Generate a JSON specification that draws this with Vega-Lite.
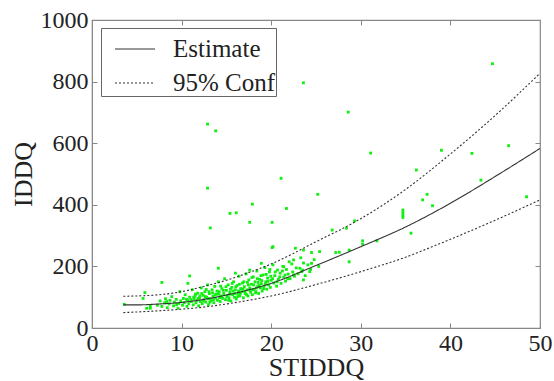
{
  "$schema": "https://vega.github.io/schema/vega-lite/v6.json",
  "width": 448,
  "height": 308,
  "autosize": "none",
  "padding": {"left": 92, "top": 20, "right": 14, "bottom": 53},
  "background": "white",
  "config": {
    "view": {"stroke": "#888", "strokeWidth": 1.2},
    "font": "Liberation Serif",
    "style": {"guide-label": {"font": "Liberation Serif"}, "guide-title": {"font": "Liberation Serif"}},
    "axis": {"grid": false, "domainColor": "#888", "tickColor": "#888", "labelColor": "#222", "titleColor": "#222", "labelFont": "Liberation Serif", "titleFont": "Liberation Serif", "labelFontSize": 24, "titleFontSize": 26, "titleFontWeight": "normal", "labelFlush": false, "labelOverlap": false}
  },
  "datasets": {
    "points": [
      {"x":44.7,"y":858},{"x":23.6,"y":796},{"x":28.6,"y":701},{"x":12.9,"y":662},{"x":13.8,"y":640},{"x":46.5,"y":592},{"x":39.0,"y":577},{"x":31.1,"y":568},{"x":42.4,"y":567},{"x":36.2,"y":513},{"x":21.1,"y":486},{"x":43.4,"y":480},{"x":12.9,"y":454},{"x":25.2,"y":434},{"x":37.4,"y":434},{"x":48.5,"y":426},{"x":36.9,"y":416},{"x":17.9,"y":402},{"x":38.0,"y":397},{"x":21.7,"y":388},{"x":16.1,"y":374},{"x":15.4,"y":372},{"x":34.7,"y":383},{"x":34.7,"y":375},{"x":34.7,"y":367},{"x":34.7,"y":359},{"x":17.6,"y":343},{"x":20.1,"y":343},{"x":29.3,"y":348},{"x":13.2,"y":325},{"x":26.8,"y":318},{"x":28.4,"y":324},{"x":35.6,"y":308},{"x":30.2,"y":283},{"x":30.2,"y":272},{"x":31.8,"y":283},{"x":20.1,"y":261},{"x":28.7,"y":253},{"x":27.6,"y":246},{"x":27.2,"y":245},{"x":25.4,"y":248},{"x":24.5,"y":245},{"x":23.6,"y":253},{"x":22.7,"y":259},{"x":28.7,"y":215},{"x":24.5,"y":210},{"x":22.5,"y":221},{"x":22.0,"y":215},{"x":23.6,"y":211},{"x":20.2,"y":264},{"x":23.2,"y":194},{"x":24.3,"y":183},{"x":23.4,"y":183},{"x":23.6,"y":156},{"x":22.5,"y":172},{"x":21.4,"y":199},{"x":18.9,"y":210},{"x":14.1,"y":194},{"x":16.0,"y":178},{"x":17.6,"y":188},{"x":10.9,"y":169},{"x":10.7,"y":145},{"x":7.8,"y":148},{"x":5.9,"y":115},{"x":6.1,"y":64},{"x":6.5,"y":70},{"x":3.6,"y":77},{"x":5.7,"y":96},{"x":6.5,"y":64},
      {"x":7.3,"y":74},{"x":7.6,"y":88},{"x":7.8,"y":70},{"x":8.1,"y":82},{"x":8.2,"y":95},{"x":8.4,"y":66},{"x":8.6,"y":78},{"x":8.7,"y":90},{"x":8.9,"y":102},{"x":9.1,"y":72},{"x":9.2,"y":84},{"x":9.4,"y":93},{"x":9.6,"y":64},{"x":9.7,"y":80},{"x":9.8,"y":118},{"x":9.9,"y":88},
      {"x":10.1,"y":74},{"x":10.2,"y":96},{"x":10.3,"y":82},{"x":10.4,"y":108},{"x":10.6,"y":70},{"x":10.7,"y":90},{"x":10.8,"y":79},{"x":10.9,"y":100},
      {"x":11.1,"y":86},{"x":11.2,"y":124},{"x":11.3,"y":75},{"x":11.4,"y":95},{"x":11.5,"y":104},{"x":11.6,"y":82},{"x":11.7,"y":90},{"x":11.8,"y":113},{"x":11.9,"y":72},
      {"x":12.0,"y":98},{"x":12.1,"y":86},{"x":12.2,"y":130},{"x":12.3,"y":79},{"x":12.4,"y":106},{"x":12.5,"y":92},{"x":12.6,"y":118},{"x":12.7,"y":84},{"x":12.8,"y":100},{"x":12.9,"y":140},
      {"x":13.0,"y":76},{"x":13.1,"y":112},{"x":13.2,"y":94},{"x":13.3,"y":88},{"x":13.4,"y":124},{"x":13.5,"y":103},{"x":13.6,"y":82},{"x":13.7,"y":135},{"x":13.8,"y":97},{"x":13.9,"y":110},
      {"x":14.0,"y":90},{"x":14.1,"y":150},{"x":14.2,"y":118},{"x":14.3,"y":86},{"x":14.4,"y":104},{"x":14.5,"y":128},{"x":14.6,"y":96},{"x":14.7,"y":112},{"x":14.8,"y":160},{"x":14.9,"y":92},
      {"x":15.0,"y":122},{"x":15.1,"y":106},{"x":15.2,"y":140},{"x":15.3,"y":98},{"x":15.4,"y":116},{"x":15.5,"y":88},{"x":15.6,"y":132},{"x":15.7,"y":108},{"x":15.8,"y":150},{"x":15.9,"y":100},
      {"x":16.0,"y":124},{"x":16.1,"y":94},{"x":16.2,"y":138},{"x":16.3,"y":112},{"x":16.4,"y":168},{"x":16.5,"y":104},{"x":16.6,"y":128},{"x":16.7,"y":118},{"x":16.8,"y":146},{"x":16.9,"y":98},
      {"x":17.0,"y":134},{"x":17.1,"y":112},{"x":17.2,"y":176},{"x":17.3,"y":124},{"x":17.4,"y":104},{"x":17.5,"y":156},{"x":17.6,"y":130},{"x":17.7,"y":116},{"x":17.8,"y":142},{"x":17.9,"y":108},
      {"x":18.0,"y":166},{"x":18.1,"y":126},{"x":18.2,"y":150},{"x":18.3,"y":118},{"x":18.4,"y":185},{"x":18.5,"y":136},{"x":18.6,"y":112},{"x":18.7,"y":158},{"x":18.8,"y":130},{"x":18.9,"y":144},
      {"x":19.0,"y":120},{"x":19.1,"y":172},{"x":19.2,"y":136},{"x":19.3,"y":196},{"x":19.4,"y":150},{"x":19.5,"y":126},{"x":19.6,"y":162},{"x":19.7,"y":140},{"x":19.8,"y":182},{"x":19.9,"y":132},
      {"x":20.0,"y":155},{"x":20.2,"y":205},{"x":20.3,"y":146},{"x":20.4,"y":170},{"x":20.6,"y":136},{"x":20.7,"y":188},{"x":20.8,"y":158},{"x":21.0,"y":178},{"x":21.1,"y":145},{"x":21.3,"y":200},{"x":21.4,"y":165},{"x":21.6,"y":152},{"x":21.7,"y":190},{"x":21.9,"y":175},
      {"x":22.1,"y":160},{"x":22.3,"y":208},{"x":22.4,"y":182},{"x":22.6,"y":168},{"x":22.8,"y":195},{"x":23.0,"y":176},{"x":23.3,"y":228},{"x":23.5,"y":188},{"x":23.8,"y":170},{"x":24.1,"y":205},{"x":24.4,"y":190},{"x":24.8,"y":222},{"x":25.3,"y":200},
      {"x":11.05,"y":92},{"x":11.55,"y":110},{"x":12.05,"y":104},{"x":12.45,"y":88},{"x":12.95,"y":96},{"x":13.45,"y":114},{"x":13.95,"y":120},{"x":14.45,"y":100},{"x":14.95,"y":134},{"x":15.45,"y":126},{"x":15.95,"y":112},{"x":16.45,"y":142},{"x":16.95,"y":150},{"x":17.45,"y":140},{"x":17.95,"y":124},{"x":18.45,"y":160},{"x":18.95,"y":154},{"x":19.45,"y":174},{"x":19.95,"y":168},{"x":13.15,"y":84},{"x":14.25,"y":98},{"x":15.25,"y":90},{"x":16.25,"y":102},{"x":17.25,"y":108},{"x":18.25,"y":114},{"x":10.55,"y":93},{"x":9.45,"y":76},{"x":8.35,"y":86},{"x":12.75,"y":125},{"x":15.65,"y":145},{"x":18.65,"y":138},
      {"x":11.35,"y":100},{"x":11.85,"y":96},{"x":12.25,"y":112},{"x":12.65,"y":102},{"x":13.05,"y":118},{"x":13.55,"y":92},{"x":13.75,"y":108},{"x":14.15,"y":110},{"x":14.35,"y":136},{"x":14.65,"y":122},{"x":15.05,"y":102},{"x":15.35,"y":110},{"x":15.75,"y":120},{"x":16.05,"y":134},{"x":16.35,"y":120},{"x":16.55,"y":112},{"x":16.85,"y":126},{"x":17.05,"y":118},{"x":17.35,"y":148},{"x":17.65,"y":122},{"x":17.85,"y":164},{"x":18.05,"y":140},{"x":18.35,"y":130},{"x":18.55,"y":148},{"x":18.85,"y":170},{"x":19.15,"y":128},{"x":19.35,"y":144},{"x":19.65,"y":152},{"x":19.85,"y":190},{"x":20.15,"y":160},{"x":20.45,"y":182},{"x":20.65,"y":150},{"x":20.95,"y":166},{"x":21.25,"y":185},{"x":21.55,"y":172},{"x":21.85,"y":160}
    ],
    "curves": [
      {"x":3.5,"y":75,"t":"Estimate","c":"m"},{"x":5,"y":75,"t":"Estimate","c":"m"},{"x":7.5,"y":78,"t":"Estimate","c":"m"},{"x":10,"y":83,"t":"Estimate","c":"m"},{"x":12.5,"y":93,"t":"Estimate","c":"m"},{"x":15,"y":107,"t":"Estimate","c":"m"},{"x":17.5,"y":124,"t":"Estimate","c":"m"},{"x":20,"y":145,"t":"Estimate","c":"m"},{"x":25,"y":203,"t":"Estimate","c":"m"},{"x":30,"y":264,"t":"Estimate","c":"m"},{"x":35,"y":328,"t":"Estimate","c":"m"},{"x":40,"y":405,"t":"Estimate","c":"m"},{"x":45,"y":492,"t":"Estimate","c":"m"},{"x":50,"y":583,"t":"Estimate","c":"m"},
      {"x":3.5,"y":103,"t":"95% Conf","c":"u"},{"x":5,"y":104,"t":"95% Conf","c":"u"},{"x":7.5,"y":108,"t":"95% Conf","c":"u"},{"x":10,"y":118,"t":"95% Conf","c":"u"},{"x":12.5,"y":135,"t":"95% Conf","c":"u"},{"x":15,"y":155,"t":"95% Conf","c":"u"},{"x":17.5,"y":180,"t":"95% Conf","c":"u"},{"x":20,"y":208,"t":"95% Conf","c":"u"},{"x":25,"y":280,"t":"95% Conf","c":"u"},{"x":30,"y":355,"t":"95% Conf","c":"u"},{"x":35,"y":450,"t":"95% Conf","c":"u"},{"x":40,"y":565,"t":"95% Conf","c":"u"},{"x":45,"y":690,"t":"95% Conf","c":"u"},{"x":50,"y":827,"t":"95% Conf","c":"u"},
      {"x":3.5,"y":50,"t":"95% Conf","c":"l"},{"x":5,"y":52,"t":"95% Conf","c":"l"},{"x":7.5,"y":56,"t":"95% Conf","c":"l"},{"x":10,"y":61,"t":"95% Conf","c":"l"},{"x":12.5,"y":68,"t":"95% Conf","c":"l"},{"x":15,"y":78,"t":"95% Conf","c":"l"},{"x":17.5,"y":90,"t":"95% Conf","c":"l"},{"x":20,"y":104,"t":"95% Conf","c":"l"},{"x":25,"y":141,"t":"95% Conf","c":"l"},{"x":30,"y":183,"t":"95% Conf","c":"l"},{"x":35,"y":230,"t":"95% Conf","c":"l"},{"x":40,"y":288,"t":"95% Conf","c":"l"},{"x":45,"y":350,"t":"95% Conf","c":"l"},{"x":50,"y":416,"t":"95% Conf","c":"l"}
    ]
  },
  "layer": [
    {
      "data": {"name": "points"},
      "mark": {"type": "square", "size": 8, "color": "#11ee11", "opacity": 1, "filled": true},
      "encoding": {
        "x": {"field": "x", "type": "quantitative", "scale": {"domain": [0, 50], "nice": false, "zero": false},
          "axis": {"orient": "bottom", "title": "STIDDQ", "values": [0,10,20,30,40,50], "format": "d", "tickSize": -5, "labelPadding": 8, "titlePadding": -1, "labelFont": "Liberation Serif", "titleFont": "Liberation Serif", "labelFontSize": 24, "titleFontSize": 26}},
        "y": {"field": "y", "type": "quantitative", "scale": {"domain": [0, 1000], "nice": false, "zero": false},
          "axis": {"orient": "left", "title": "IDDQ", "values": [0,200,400,600,800,1000], "format": "d", "tickSize": -5, "labelPadding": 9, "titlePadding": 4, "labelFont": "Liberation Serif", "titleFont": "Liberation Serif", "labelFontSize": 24, "titleFontSize": 26}}
      }
    },
    {
      "data": {"name": "curves"},
      "mark": {"type": "line", "color": "#333", "strokeWidth": 1.1, "interpolate": "monotone"},
      "encoding": {
        "x": {"field": "x", "type": "quantitative", "scale": {"domain": [0, 50], "nice": false, "zero": false},
          "axis": {"orient": "top", "title": null, "labels": false, "values": [10,20,30,40], "tickSize": -5, "domain": false}},
        "y": {"field": "y", "type": "quantitative", "scale": {"domain": [0, 1000], "nice": false, "zero": false},
          "axis": {"orient": "right", "title": null, "labels": false, "values": [200,400,600,800], "tickSize": -5, "domain": false}},
        "detail": {"field": "c"},
        "strokeDash": {"field": "t", "type": "nominal",
          "scale": {"domain": ["Estimate", "95% Conf"], "range": [[1, 0], [2, 2]]},
          "legend": {"title": null, "orient": "none", "legendX": 9, "legendY": 8, "strokeColor": "#666", "fillColor": "white", "padding": 0, "symbolOffset": 13, "labelOffset": 17, "labelFontSize": 25, "labelFont": "Liberation Serif", "labelColor": "#222", "symbolType": "stroke", "symbolSize": 1600, "symbolStrokeWidth": 1.1, "symbolStrokeColor": "#333", "rowPadding": -10}}
      }
    }
  ],
  "resolve": {"axis": {"x": "independent", "y": "independent"}}
}
